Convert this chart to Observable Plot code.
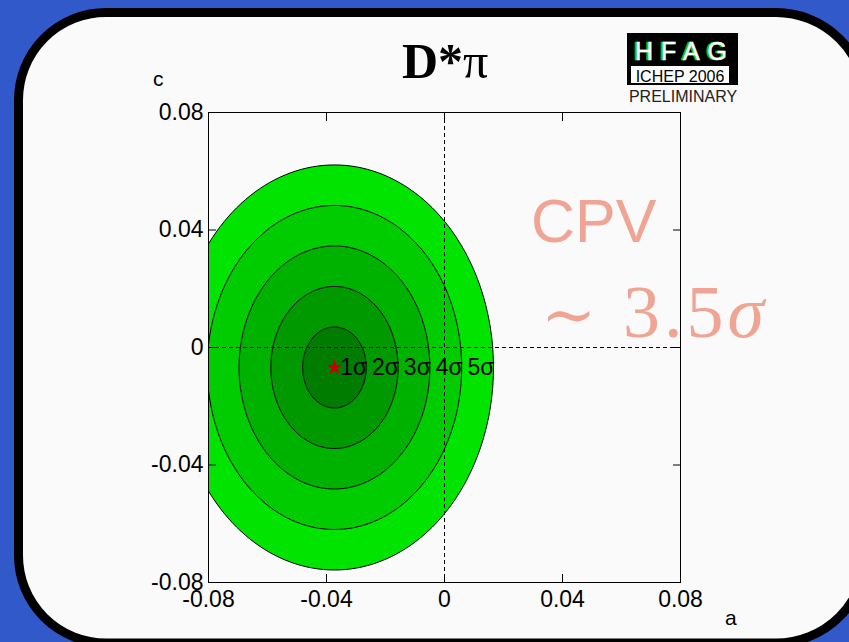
<!DOCTYPE html>
<html>
<head>
<meta charset="utf-8">
<script src="https://cdn.jsdelivr.net/npm/d3@7"></script>
<script src="https://cdn.jsdelivr.net/npm/@observablehq/plot@0.6"></script>
<style>
  html, body { margin: 0; padding: 0; overflow: hidden; }
  body { width: 849px; height: 642px; background: #3259c9; position: relative; }
  #bg { position: absolute; left: 0; top: 0; display: block; }
  #chart { position: absolute; left: 0; top: 0; }
</style>
</head>
<body>
<svg id="bg" width="849" height="642"><path d="M18.5,100 A87.5,87.5 0 0 1 106,12.5 L776,12.5 A90,90 0 0 1 866,102.5 L866,553 A90,90 0 0 1 776,643 L106,643 A87.5,87.5 0 0 1 18.5,555.5 Z" fill="#fafafa" stroke="#000" stroke-width="9"/></svg>
<div id="chart"></div>
<script>
// ---- data ----
const xTicks = [-0.08, -0.04, 0, 0.04, 0.08];
const yTicks = [-0.08, -0.04, 0, 0.04, 0.08];
const centerA = -0.0373;          // best-fit a
const centerC = -0.0068;          // best-fit c
const sigmaA = 0.01078;           // 1σ half-width in a
const sigmaC = 0.01379;           // 1σ half-width in c
const levels = [5, 4, 3, 2, 1];
const levelColors = ["#00e400", "#00cc00", "#00b200", "#009a00", "#007c00"];
const levelLabels = ["5σ", "4σ", "3σ", "2σ", "1σ"];

// contour outlines (ellipses of n·σ around the best fit)
const angles = d3.range(0, 360, 2).map(d => d * Math.PI / 180);
const contour = n => angles.map(t => ({a: centerA + n * sigmaA * Math.cos(t), c: centerC + n * sigmaC * Math.sin(t)}));
const labelRows = levels.map((n, i) => ({a: centerA + n * sigmaA, c: centerC, label: levelLabels[i]}));

const fmt = d => String(d);

const plot = Plot.plot({
  width: 849, height: 642,
  marginLeft: 208, marginRight: 169, marginTop: 112, marginBottom: 60,
  style: {background: "transparent", fontFamily: "'Liberation Sans', Arial, sans-serif", fontSize: "22px", color: "#000"},
  x: {domain: [-0.08, 0.08], label: null},
  y: {domain: [-0.08, 0.08], label: null},
  marks: [
    ...levels.map((n, i) => Plot.line(contour(n), {x: "a", y: "c", curve: "linear-closed", fill: levelColors[i], stroke: "#000", strokeWidth: 1, clip: true})),
    Plot.ruleX([0], {stroke: "#000", strokeDasharray: "4,3", strokeWidth: 1}),
    Plot.ruleY([0], {stroke: "#000", strokeDasharray: "4,3", strokeWidth: 1}),
    Plot.dot([{a: centerA, c: centerC}], {x: "a", y: "c", symbol: "star", r: 5, fill: "#cc0000", stroke: null}),
    Plot.text(labelRows, {x: "a", y: "c", text: "label", textAnchor: "end", lineAnchor: "middle", fontSize: 23, fill: "#000", dx: 1}),
    Plot.frame({stroke: "#000", strokeWidth: 1}),
    Plot.axisX(xTicks, {anchor: "bottom", tickSize: -8, tickPadding: 16, tickFormat: fmt, fontSize: 23}),
    Plot.axisX(xTicks, {anchor: "top", tickSize: -8, tickFormat: () => ""}),
    Plot.axisY(yTicks, {anchor: "left", tickSize: -8, tickPadding: 13, tickFormat: fmt, fontSize: 23}),
    Plot.axisY(yTicks, {anchor: "right", tickSize: -8, tickFormat: () => ""})
  ]
});
document.getElementById("chart").appendChild(plot);

// ---- decorations: title, axis names, HFAG badge, annotation ----
const svg = d3.select(plot);
const g = svg.append("g").attr("text-anchor", "start");
const sans = "'Liberation Sans', Arial, sans-serif";
const serif = "'Liberation Serif', 'Times New Roman', serif";
const title = g.append("text").attr("x", 402).attr("y", 78).attr("font-family", serif).attr("font-size", 50).attr("fill", "#000");
title.append("tspan").attr("font-weight", "bold").text("D*");
title.append("tspan").text("π");

g.append("text").attr("x", 153).attr("y", 86).attr("font-size", 21).attr("font-family", sans).text("c");
g.append("text").attr("x", 725).attr("y", 625).attr("font-size", 21).attr("font-family", sans).text("a");

// HFAG badge
g.append("rect").attr("x", 627).attr("y", 33).attr("width", 111).attr("height", 52).attr("fill", "#000");
g.append("rect").attr("x", 631).attr("y", 66).attr("width", 98).attr("height", 17).attr("fill", "#fff");
g.append("text").attr("x", 633).attr("y", 60).attr("font-size", 25).attr("letter-spacing", 8).attr("font-family", sans).attr("fill", "#00d000").attr("stroke", "#00d000").attr("stroke-width", 0.6).text("HFAG");
g.append("text").attr("x", 635).attr("y", 60).attr("font-size", 25).attr("letter-spacing", 8).attr("font-family", sans).attr("fill", "#fff").attr("stroke", "#fff").attr("stroke-width", 0.6).text("HFAG");
g.append("text").attr("x", 680).attr("y", 82).attr("text-anchor", "middle").attr("font-size", 16).attr("font-family", sans).attr("fill", "#000").text("ICHEP 2006");
g.append("text").attr("x", 683).attr("y", 102).attr("text-anchor", "middle").attr("font-size", 16).attr("font-family", sans).attr("fill", "#222").text("PRELIMINARY");

// CPV annotation
g.append("text").attr("x", 531).attr("y", 242).attr("font-size", 61).attr("font-family", sans).attr("fill", "#f0a494").text("CPV");
g.append("text").attr("x", 541).attr("y", 337).attr("font-size", 66).attr("font-family", "'DejaVu Serif', serif").attr("fill", "#f0a494").text("∼");
const sig = g.append("text").attr("x", 623).attr("y", 337).attr("font-size", 74).attr("letter-spacing", 4).attr("font-family", serif).attr("fill", "#f0a494");
sig.append("tspan").text("3.5");
sig.append("tspan").attr("font-style", "italic").text("σ");
</script>
</body>
</html>
